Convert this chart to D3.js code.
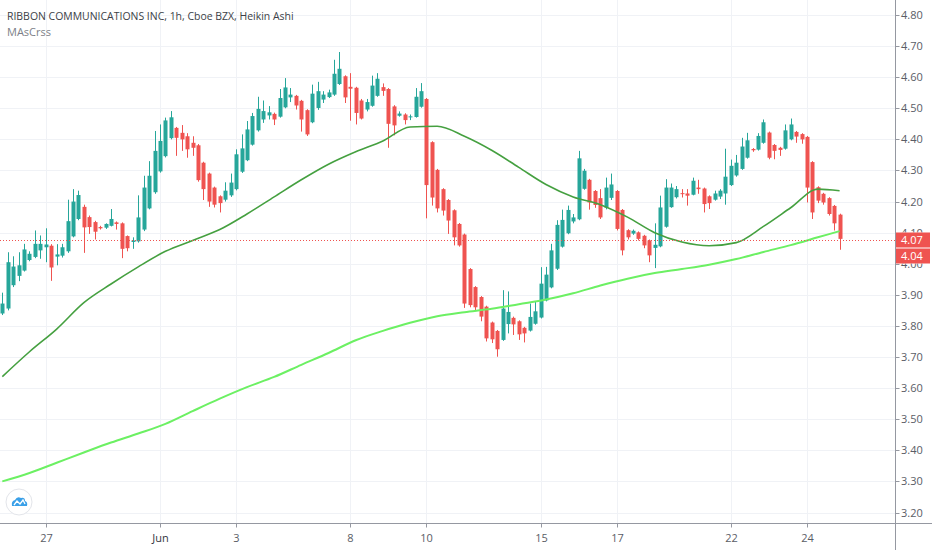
<!DOCTYPE html>
<html>
<head>
<meta charset="utf-8">
<script src="https://d3js.org/d3.v7.min.js"></script>
<style>
  body { margin: 0; background: #ffffff; overflow: hidden; }
  svg { display: block; font-family: "Open Sans", sans-serif; }
</style>
</head>
<body>
<div id="chart-area"></div>
<script>
// Heikin Ashi bars, 1h, first visible bar is index 0
var haOpen = [
  3.840, 3.856, 3.931, 3.961, 3.978, 4.012, 4.022, 4.043, 4.053, 4.058,
  4.023, 4.026, 4.040, 4.088, 4.144, 4.183, 4.150, 4.134, 4.118, 4.116,
  4.122, 4.133, 4.130, 4.089, 4.070, 4.072, 4.110, 4.178, 4.230, 4.297,
  4.346, 4.404, 4.437, 4.421, 4.410, 4.389, 4.381, 4.325, 4.290, 4.245,
  4.217, 4.206, 4.220, 4.240, 4.296, 4.333, 4.383, 4.429, 4.464, 4.477,
  4.482, 4.473, 4.503, 4.535, 4.540, 4.524, 4.494, 4.455, 4.501, 4.528,
  4.536, 4.544, 4.578, 4.603, 4.569, 4.566, 4.525, 4.496, 4.508, 4.540,
  4.568, 4.562, 4.506, 4.476, 4.480, 4.471, 4.472, 4.505, 4.530, 4.391,
  4.302, 4.240, 4.205, 4.172, 4.128, 4.094, 3.983, 3.925, 3.893, 3.862,
  3.811, 3.784, 3.755, 3.806, 3.826, 3.815, 3.794, 3.785, 3.807, 3.827,
  3.882, 3.924, 3.984, 4.055, 4.098, 4.136, 4.143, 4.241, 4.270, 4.234,
  4.211, 4.180, 4.212, 4.234, 4.173, 4.108, 4.097, 4.101, 4.090, 4.075,
  4.051, 4.056, 4.119, 4.182, 4.214, 4.227, 4.226, 4.222, 4.245, 4.242,
  4.217, 4.206, 4.216, 4.226, 4.253, 4.284, 4.305, 4.341, 4.369, 4.367,
  4.389, 4.422, 4.382, 4.373, 4.370, 4.400, 4.424, 4.417, 4.408, 4.327,
  4.246, 4.225, 4.211, 4.186, 4.158
];
var haHigh = [
  3.907, 4.037, 4.024, 4.037, 4.064, 4.040, 4.107, 4.091, 4.114, 4.063,
  4.063, 4.064, 4.206, 4.240, 4.235, 4.190, 4.155, 4.138, 4.122, 4.130,
  4.176, 4.136, 4.133, 4.091, 4.085, 4.220, 4.283, 4.330, 4.427, 4.448,
  4.470, 4.491, 4.440, 4.446, 4.420, 4.410, 4.385, 4.328, 4.293, 4.248,
  4.220, 4.262, 4.290, 4.368, 4.416, 4.459, 4.485, 4.537, 4.525, 4.507,
  4.486, 4.562, 4.597, 4.565, 4.543, 4.527, 4.497, 4.576, 4.585, 4.555,
  4.560, 4.656, 4.681, 4.606, 4.613, 4.569, 4.530, 4.530, 4.605, 4.613,
  4.580, 4.565, 4.510, 4.490, 4.484, 4.480, 4.565, 4.581, 4.533, 4.394,
  4.305, 4.243, 4.208, 4.175, 4.131, 4.097, 3.986, 3.928, 3.896, 3.865,
  3.814, 3.787, 3.915, 3.911, 3.830, 3.818, 3.797, 3.872, 3.880, 3.989,
  3.990, 4.064, 4.140, 4.174, 4.187, 4.160, 4.363, 4.305, 4.273, 4.237,
  4.240, 4.277, 4.290, 4.237, 4.176, 4.111, 4.110, 4.104, 4.093, 4.078,
  4.130, 4.219, 4.272, 4.258, 4.250, 4.240, 4.240, 4.277, 4.270, 4.245,
  4.220, 4.235, 4.240, 4.370, 4.335, 4.350, 4.405, 4.421, 4.372, 4.420,
  4.464, 4.425, 4.385, 4.376, 4.448, 4.467, 4.427, 4.420, 4.411, 4.330,
  4.249, 4.228, 4.214, 4.189, 4.161
];
var haLow = [
  3.835, 3.850, 3.925, 3.944, 3.975, 4.008, 4.018, 4.016, 4.005, 3.945,
  3.995, 4.020, 4.035, 4.085, 4.140, 4.035, 4.096, 4.078, 4.110, 4.112,
  4.120, 4.110, 4.018, 4.040, 4.048, 4.068, 4.105, 4.175, 4.225, 4.293,
  4.342, 4.400, 4.347, 4.363, 4.341, 4.347, 4.264, 4.205, 4.183, 4.181,
  4.165, 4.200, 4.215, 4.236, 4.292, 4.330, 4.380, 4.425, 4.453, 4.464,
  4.446, 4.470, 4.500, 4.520, 4.496, 4.425, 4.411, 4.452, 4.495, 4.517,
  4.533, 4.540, 4.575, 4.517, 4.460, 4.448, 4.464, 4.490, 4.505, 4.537,
  4.540, 4.373, 4.413, 4.473, 4.448, 4.462, 4.470, 4.502, 4.146, 4.187,
  4.165, 4.155, 4.096, 4.059, 4.055, 3.858, 3.860, 3.850, 3.815, 3.750,
  3.745, 3.701, 3.752, 3.776, 3.771, 3.755, 3.747, 3.782, 3.804, 3.824,
  3.879, 3.921, 3.980, 4.052, 4.095, 4.130, 4.140, 4.238, 4.174, 4.180,
  4.144, 4.175, 4.205, 4.107, 4.027, 4.078, 4.093, 4.075, 4.050, 4.005,
  3.986, 4.053, 4.116, 4.180, 4.210, 4.213, 4.187, 4.220, 4.225, 4.165,
  4.176, 4.203, 4.208, 4.190, 4.250, 4.280, 4.302, 4.338, 4.360, 4.364,
  4.386, 4.336, 4.336, 4.347, 4.367, 4.397, 4.389, 4.386, 4.197, 4.144,
  4.195, 4.190, 4.155, 4.107, 4.045
];
var haClose = [
  3.872, 4.005, 3.991, 3.995, 4.046, 4.032, 4.064, 4.064, 4.062, 3.988,
  4.030, 4.053, 4.137, 4.200, 4.221, 4.117, 4.118, 4.103, 4.114, 4.128,
  4.144, 4.128, 4.048, 4.050, 4.075, 4.149, 4.245, 4.283, 4.363, 4.395,
  4.461, 4.471, 4.405, 4.400, 4.368, 4.373, 4.269, 4.240, 4.200, 4.190,
  4.195, 4.235, 4.261, 4.352, 4.371, 4.432, 4.475, 4.498, 4.491, 4.487,
  4.464, 4.533, 4.567, 4.544, 4.509, 4.464, 4.416, 4.547, 4.555, 4.544,
  4.551, 4.611, 4.627, 4.535, 4.563, 4.485, 4.467, 4.520, 4.573, 4.595,
  4.556, 4.450, 4.445, 4.483, 4.462, 4.474, 4.537, 4.555, 4.253, 4.213,
  4.178, 4.171, 4.139, 4.085, 4.059, 3.872, 3.867, 3.860, 3.830, 3.760,
  3.757, 3.725, 3.856, 3.845, 3.805, 3.773, 3.776, 3.829, 3.847, 3.936,
  3.965, 4.043, 4.125, 4.141, 4.173, 4.149, 4.339, 4.299, 4.197, 4.189,
  4.149, 4.245, 4.255, 4.112, 4.043, 4.085, 4.106, 4.080, 4.059, 4.027,
  4.061, 4.181, 4.245, 4.245, 4.240, 4.224, 4.219, 4.267, 4.240, 4.192,
  4.195, 4.226, 4.235, 4.280, 4.315, 4.325, 4.377, 4.397, 4.365, 4.411,
  4.455, 4.341, 4.363, 4.366, 4.429, 4.448, 4.409, 4.400, 4.245, 4.165,
  4.203, 4.197, 4.160, 4.130, 4.080
];

// moving averages at every 5th bar
var maIndex = [0, 5, 10, 15, 20, 25, 30, 35, 40, 45, 50, 55, 60, 65, 70, 75,
               80, 85, 90, 95, 100, 105, 110, 115, 120, 125, 130, 135, 140, 145, 150, 154];
var maFast = [3.637, 3.717, 3.790, 3.875, 3.935, 3.990, 4.040, 4.075, 4.110, 4.160,
              4.215, 4.270, 4.320, 4.360, 4.395, 4.440, 4.442, 4.410, 4.365, 4.310,
              4.255, 4.215, 4.190, 4.150, 4.100, 4.070, 4.058, 4.068, 4.120, 4.180,
              4.240, 4.235];
var maSlow = [3.300, 3.327, 3.360, 3.393, 3.425, 3.454, 3.485, 3.526, 3.566, 3.603,
              3.636, 3.675, 3.713, 3.754, 3.784, 3.810, 3.831, 3.844, 3.855, 3.870,
              3.885, 3.905, 3.930, 3.952, 3.970, 3.983, 3.997, 4.015, 4.038, 4.060,
              4.085, 4.105];

var priceTicks = [3.2, 3.3, 3.4, 3.5, 3.6, 3.7, 3.8, 3.9, 4.0, 4.1, 4.2, 4.3, 4.4, 4.5, 4.6, 4.7, 4.8];
var dateTickIndex = [8, 29, 43, 64, 78, 99, 113, 134, 148];
var dateTickLabel = ["27", "Jun", "3", "8", "10", "15", "17", "22", "24"];

var lastPrice = 4.075;
var priceLabels = ["4.07", "4.04"];

var titleText = "RIBBON COMMUNICATIONS INC, 1h, Cboe BZX, Heikin Ashi";
var studyText = "MAsCrss";

//============================ layout ============================
var W = 932, H = 550;
var axisX = 895.5;     // price scale border
var axisY = 523.5;     // time scale border

var upColor = "#26a69a";
var downColor = "#ef5350";
var gridColor = "#f0f2f6";
var textColor = "#5a5d66";

var svg = d3.select("#chart-area")
  .append("svg")
  .attr("width", W)
  .attr("height", H);

var x = d3.scaleLinear()
  .domain([0, 154])
  .range([2.3, 2.3 + 154 * 5.437]);

var y = d3.scaleLinear()
  .domain([3.2, 4.8])
  .range([512.5, 15]);

// grid
svg.append("g").selectAll("line")
  .data(priceTicks)
  .enter().append("line")
  .attr("x1", 0).attr("x2", axisX)
  .attr("y1", function(d) { return Math.round(y(d)) + 0.5; })
  .attr("y2", function(d) { return Math.round(y(d)) + 0.5; })
  .attr("stroke", gridColor);

svg.append("g").selectAll("line")
  .data(dateTickIndex)
  .enter().append("line")
  .attr("y1", 0).attr("y2", axisY)
  .attr("x1", function(d) { return Math.round(x(d)) + 0.5; })
  .attr("x2", function(d) { return Math.round(x(d)) + 0.5; })
  .attr("stroke", gridColor);

// candles
var bars = svg.append("g").selectAll("g")
  .data(haOpen.map(function(o, i) {
    return { i: i, o: o, h: haHigh[i], l: haLow[i], c: haClose[i] };
  }))
  .enter().append("g");

bars.append("line")
  .attr("x1", function(d) { return Math.round(x(d.i)) + 0.5; })
  .attr("x2", function(d) { return Math.round(x(d.i)) + 0.5; })
  .attr("y1", function(d) { return y(d.h); })
  .attr("y2", function(d) { return y(d.l); })
  .attr("stroke", function(d) { return d.c >= d.o ? upColor : downColor; })
  .attr("stroke-width", 1);

bars.append("rect")
  .attr("x", function(d) { return Math.round(x(d.i)) - 1.5; })
  .attr("width", 4)
  .attr("y", function(d) { return y(Math.max(d.o, d.c)); })
  .attr("height", function(d) { return Math.max(1, Math.abs(y(d.o) - y(d.c))); })
  .attr("fill", function(d) { return d.c >= d.o ? upColor : downColor; });

// moving averages
var maLine = d3.line()
  .curve(d3.curveMonotoneX)
  .x(function(d) { return x(d[0]); })
  .y(function(d) { return y(d[1]); });

svg.append("path")
  .datum(maIndex.map(function(k, j) { return [k, maSlow[j]]; }))
  .attr("fill", "none")
  .attr("stroke", "#6cf063")
  .attr("stroke-width", 2)
  .attr("d", maLine);

svg.append("path")
  .datum(maIndex.map(function(k, j) { return [k, maFast[j]]; }))
  .attr("fill", "none")
  .attr("stroke", "#45a040")
  .attr("stroke-width", 1.6)
  .attr("d", maLine);

// last price line
svg.append("line")
  .attr("x1", 0).attr("x2", axisX)
  .attr("y1", Math.round(y(lastPrice)) + 0.5)
  .attr("y2", Math.round(y(lastPrice)) + 0.5)
  .attr("stroke", downColor)
  .attr("stroke-dasharray", "1,2");

// axes borders
svg.append("line")
  .attr("x1", 0).attr("x2", W)
  .attr("y1", axisY).attr("y2", axisY)
  .attr("stroke", "#9598a1");
svg.append("line")
  .attr("x1", axisX).attr("x2", axisX)
  .attr("y1", 0).attr("y2", H)
  .attr("stroke", "#9598a1");

// price scale (the two labels sitting under the price boxes are clipped like on the scale)
var boxTop = Math.round(y(lastPrice)) - 7.5;
var boxBottom = boxTop + 31;

svg.append("defs").append("clipPath")
  .attr("id", "scaleClip")
  .selectAll("rect")
  .data([[0, boxTop], [boxBottom, H - boxBottom]])
  .enter().append("rect")
  .attr("x", axisX).attr("width", W - axisX)
  .attr("y", function(d) { return d[0]; })
  .attr("height", function(d) { return d[1]; });

var yTicks = svg.append("g")
  .attr("clip-path", "url(#scaleClip)")
  .selectAll("g")
  .data(priceTicks)
  .enter().append("g")
  .attr("transform", function(d) { return "translate(0," + (Math.round(y(d)) + 0.5) + ")"; });
yTicks.append("line")
  .attr("x1", axisX + 0.5).attr("x2", axisX + 4)
  .attr("stroke", "#9598a1");
yTicks.append("text")
  .attr("x", 901)
  .attr("dy", "0.35em")
  .attr("font-size", 11)
  .attr("fill", textColor)
  .text(function(d) { return d.toFixed(2); });

// time scale
var xTicks = svg.append("g").selectAll("g")
  .data(dateTickIndex)
  .enter().append("g")
  .attr("transform", function(d) { return "translate(" + (Math.round(x(d)) + 0.5) + ",0)"; });
xTicks.append("line")
  .attr("y1", axisY).attr("y2", axisY + 4)
  .attr("stroke", "#9598a1");
xTicks.append("text")
  .attr("y", 542)
  .attr("text-anchor", "middle")
  .attr("font-size", 11)
  .attr("fill", function(d, i) { return dateTickLabel[i] == "Jun" ? "#34363d" : textColor; })
  .text(function(d, i) { return dateTickLabel[i]; });

// price labels on the scale
priceLabels.forEach(function(t, k) {
  svg.append("rect")
    .attr("x", axisX + 0.5).attr("y", boxTop + k * 16)
    .attr("width", 34).attr("height", 15)
    .attr("fill", downColor);
  svg.append("text")
    .attr("x", 901).attr("y", boxTop + k * 16 + 7.5)
    .attr("dy", "0.35em")
    .attr("font-size", 11)
    .attr("fill", "#ffffff")
    .text(t);
});

// header texts
var title = svg.append("text")
  .attr("x", 7).attr("y", 19.5)
  .attr("font-size", 12)
  .attr("fill", "#3c3f47")
  .text(titleText);
var tw = title.node().getComputedTextLength();
title.attr("font-size", 12 * 287 / tw);

svg.append("text")
  .attr("x", 7).attr("y", 35.5)
  .attr("font-size", 11)
  .attr("fill", "#7c7f88")
  .text(studyText);

// logo bubble
var logo = svg.append("g").attr("transform", "translate(19,502)");
logo.append("circle")
  .attr("r", 13)
  .attr("fill", "#ffffff")
  .attr("stroke", "#e3e5ea");
logo.append("path")
  .attr("d", "M-7,4 Q-8,-1 -4,-2 Q-2,-6 2,-4 Q6,-5 6,-1 Q9,0 8,4 Z")
  .attr("fill", "#3aa0e8");
logo.append("path")
  .attr("d", "M-5,3 L-2,-1 L1,2 L4,-2 L6,2")
  .attr("fill", "none")
  .attr("stroke", "#ffffff")
  .attr("stroke-width", 1.3);
</script>
</body>
</html>
